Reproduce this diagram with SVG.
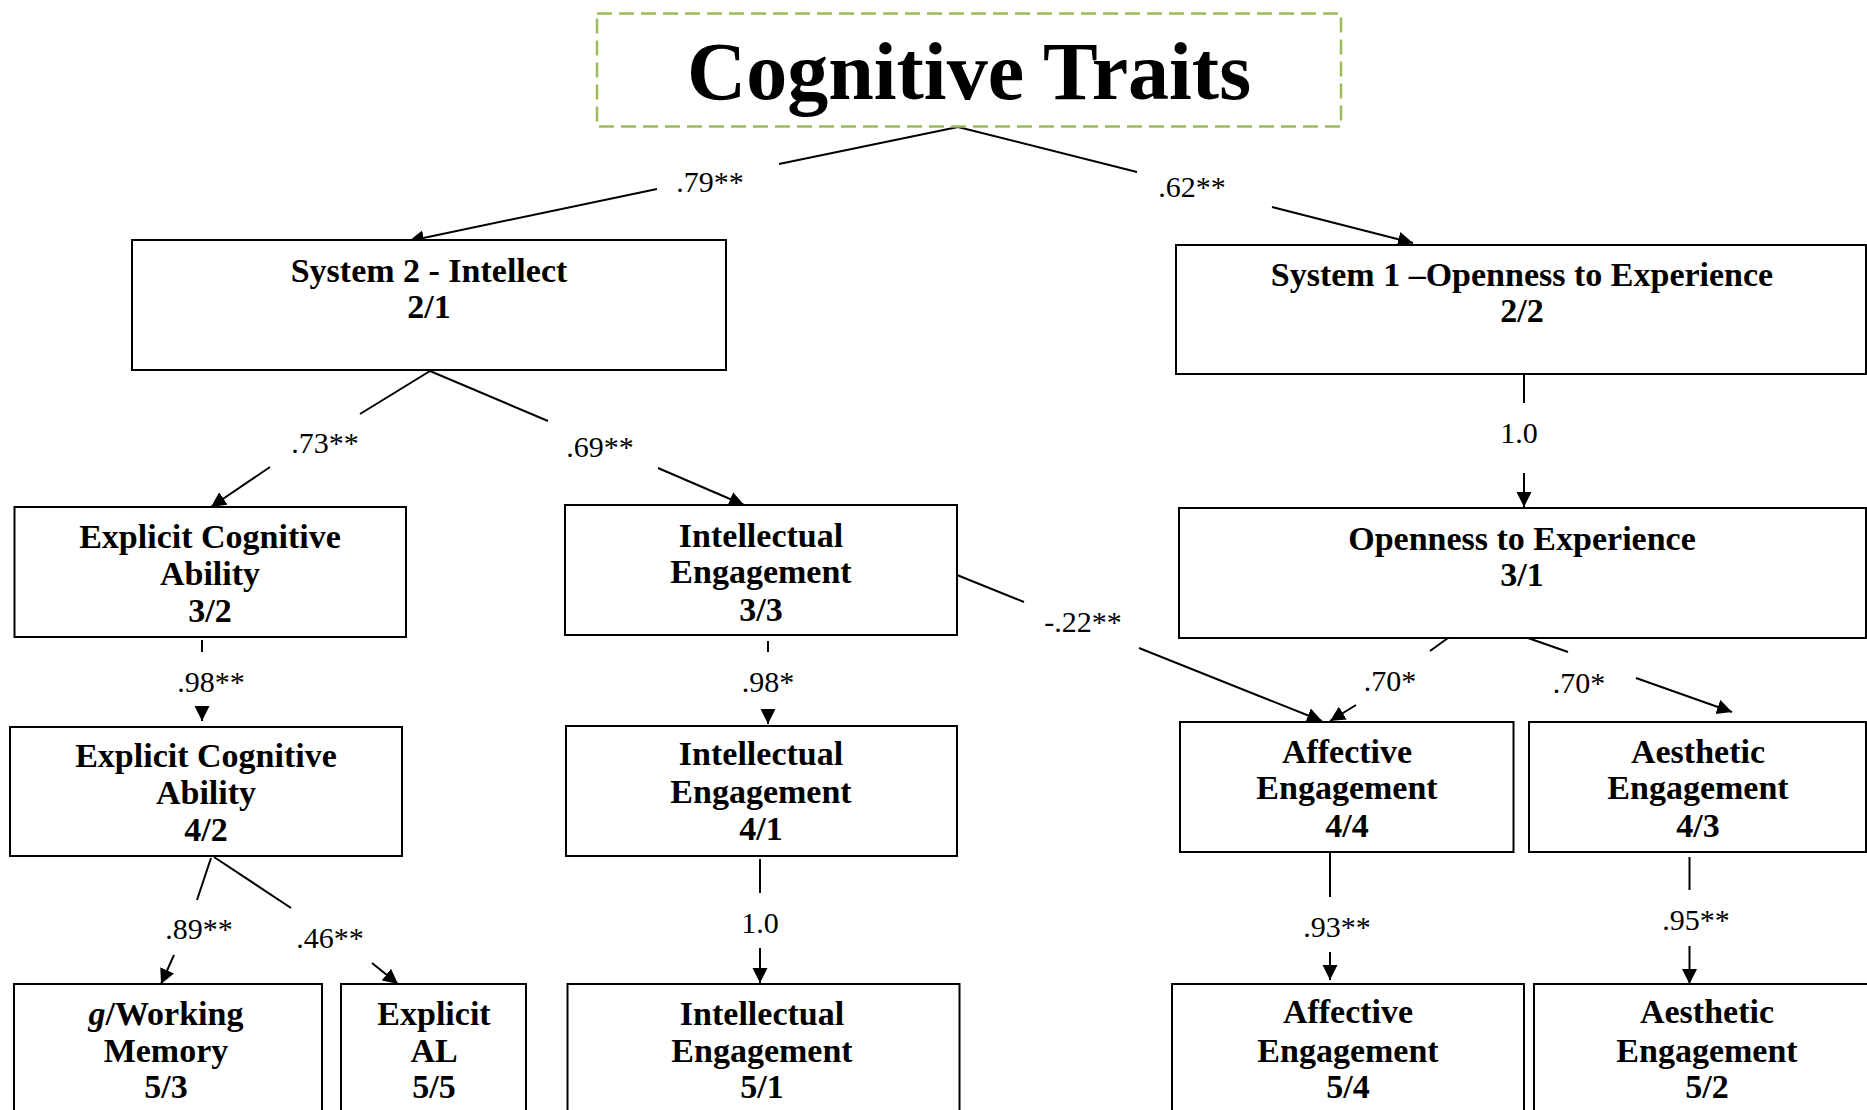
<svg xmlns="http://www.w3.org/2000/svg" width="1867" height="1110" viewBox="0 0 1867 1110">
<style>
.box{fill:#fff;stroke:#000;stroke-width:2}
.nt{font-family:"Liberation Serif",serif;font-weight:bold;font-size:34px;text-anchor:middle;fill:#000}
.lb{font-family:"Liberation Serif",serif;font-size:30px;text-anchor:middle;fill:#000}
.ln{stroke:#000;stroke-width:2;fill:none}
.ar{stroke:#000;stroke-width:2;fill:none;marker-end:url(#ah)}
</style>
<defs>
<marker id="ah" markerUnits="userSpaceOnUse" markerWidth="16" markerHeight="16" viewBox="0 0 16 16" refX="15" refY="8" orient="auto">
<path d="M0,0.5 L15,8 L0,15.5 Z" fill="#000"/>
</marker>
</defs>
<rect width="1867" height="1110" fill="#fff"/>

<g id="connectors">
<path class="ln" d="M958,127 L779,164"/><path class="ar" d="M657,189 L409,241"/>
<text class="lb" x="710" y="192">.79**</text>
<path class="ln" d="M958,127 L1137,172"/><path class="ar" d="M1272,207 L1413,243"/>
<text class="lb" x="1192" y="197">.62**</text>
<path class="ln" d="M430,371 L360,414"/><path class="ar" d="M270,467 L211,507"/>
<text class="lb" x="325" y="453">.73**</text>
<path class="ln" d="M430,371 L548,421"/><path class="ar" d="M658,468 L744,505"/>
<text class="lb" x="600" y="457">.69**</text>
<path class="ln" d="M1524,374 L1524,403"/><path class="ar" d="M1524,473 L1524,507"/>
<text class="lb" x="1519" y="443">1.0</text>
<path class="ln" d="M202,640 L202,652"/><path class="ar" d="M202,706 L202,721"/>
<text class="lb" x="211" y="692">.98**</text>
<path class="ln" d="M768,641 L768,652"/><path class="ar" d="M768,709 L768,724"/>
<text class="lb" x="768" y="692">.98*</text>
<path class="ln" d="M211,858 L197,900"/><path class="ar" d="M174,955 L161,984"/>
<text class="lb" x="199" y="939">.89**</text>
<path class="ln" d="M214,857 L291,908"/><path class="ar" d="M372,963 L398,984"/>
<text class="lb" x="330" y="948">.46**</text>
<path class="ln" d="M760,859 L760,893"/><path class="ar" d="M760,948 L760,983"/>
<text class="lb" x="760" y="933">1.0</text>
<path class="ln" d="M957,575 L1024,602"/><path class="ar" d="M1139,648 L1322,721"/>
<text class="lb" x="1083" y="632">-.22**</text>
<path class="ln" d="M1448,638 L1430,651"/><path class="ar" d="M1356,705 L1330,721"/>
<text class="lb" x="1390" y="691">.70*</text>
<path class="ln" d="M1528,638 L1568,652"/><path class="ar" d="M1636,678 L1732,712"/>
<text class="lb" x="1579" y="693">.70*</text>
<path class="ln" d="M1330,853 L1330,897"/><path class="ar" d="M1330,952 L1330,980"/>
<text class="lb" x="1337" y="937">.93**</text>
<path class="ln" d="M1689.5,857 L1689.5,890"/><path class="ar" d="M1689.5,946 L1689.5,984"/>
<text class="lb" x="1696" y="930">.95**</text>
</g>

<g id="title">
<rect x="597" y="13.5" width="744" height="113" fill="none" stroke="#9BBB59" stroke-width="2.5" stroke-dasharray="15 7"/>
<text x="969" y="99" font-family="Liberation Serif,serif" font-weight="bold" font-size="82" text-anchor="middle">Cognitive Traits</text>
</g>

<g id="system2">
<rect class="box" x="132" y="240" width="594" height="130"/>
<text class="nt" x="429" y="282">System 2 - Intellect</text>
<text class="nt" x="429" y="318">2/1</text>
</g>
<g id="system1">
<rect class="box" x="1176" y="245" width="690" height="129"/>
<text class="nt" x="1522" y="286">System 1 –Openness to Experience</text>
<text class="nt" x="1522" y="322">2/2</text>
</g>
<g id="openness31">
<rect class="box" x="1179" y="508" width="687" height="130"/>
<text class="nt" x="1522" y="550">Openness to Experience</text>
<text class="nt" x="1522" y="586">3/1</text>
</g>
<g id="eca32">
<rect class="box" x="14.5" y="507" width="391.5" height="130"/>
<text class="nt" x="210" y="548">Explicit Cognitive</text>
<text class="nt" x="210" y="585">Ability</text>
<text class="nt" x="210" y="622">3/2</text>
</g>
<g id="ie33">
<rect class="box" x="565" y="505" width="392" height="130"/>
<text class="nt" x="761" y="547">Intellectual</text>
<text class="nt" x="761" y="583">Engagement</text>
<text class="nt" x="761" y="621">3/3</text>
</g>
<g id="eca42">
<rect class="box" x="10" y="727" width="392" height="129"/>
<text class="nt" x="206" y="767">Explicit Cognitive</text>
<text class="nt" x="206" y="804">Ability</text>
<text class="nt" x="206" y="841">4/2</text>
</g>
<g id="ie41">
<rect class="box" x="566" y="726" width="391" height="130"/>
<text class="nt" x="761" y="765">Intellectual</text>
<text class="nt" x="761" y="803">Engagement</text>
<text class="nt" x="761" y="840">4/1</text>
</g>
<g id="aff44">
<rect class="box" x="1180" y="722" width="333.5" height="130"/>
<text class="nt" x="1347" y="763">Affective</text>
<text class="nt" x="1347" y="799">Engagement</text>
<text class="nt" x="1347" y="837">4/4</text>
</g>
<g id="aes43">
<rect class="box" x="1529" y="722" width="337" height="130"/>
<text class="nt" x="1698" y="763">Aesthetic</text>
<text class="nt" x="1698" y="799">Engagement</text>
<text class="nt" x="1698" y="837">4/3</text>
</g>
<g id="gwm53">
<rect class="box" x="14" y="984" width="308" height="140"/>
<text class="nt" x="166" y="1025"><tspan font-style="italic">g</tspan>/Working</text>
<text class="nt" x="166" y="1062">Memory</text>
<text class="nt" x="166" y="1098">5/3</text>
</g>
<g id="eal55">
<rect class="box" x="341" y="984" width="185" height="140"/>
<text class="nt" x="434" y="1025">Explicit</text>
<text class="nt" x="434" y="1062">AL</text>
<text class="nt" x="434" y="1098">5/5</text>
</g>
<g id="ie51">
<rect class="box" x="567.5" y="984" width="392" height="140"/>
<text class="nt" x="762" y="1025">Intellectual</text>
<text class="nt" x="762" y="1062">Engagement</text>
<text class="nt" x="762" y="1098">5/1</text>
</g>
<g id="aff54">
<rect class="box" x="1172" y="984" width="352" height="140"/>
<text class="nt" x="1348" y="1023">Affective</text>
<text class="nt" x="1348" y="1062">Engagement</text>
<text class="nt" x="1348" y="1098">5/4</text>
</g>
<g id="aes52">
<rect class="box" x="1534" y="984" width="360" height="140"/>
<text class="nt" x="1707" y="1023">Aesthetic</text>
<text class="nt" x="1707" y="1062">Engagement</text>
<text class="nt" x="1707" y="1098">5/2</text>
</g>
</svg>
